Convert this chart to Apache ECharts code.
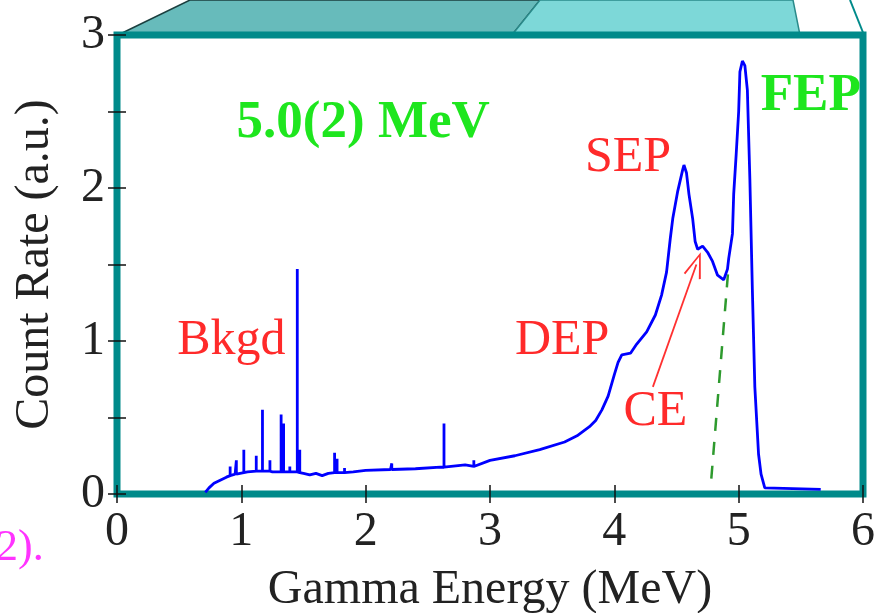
<!DOCTYPE html>
<html>
<head>
<meta charset="utf-8">
<script src="https://cdn.jsdelivr.net/npm/echarts@6/dist/echarts.min.js"></script>
<style>
  html, body { margin: 0; padding: 0; background: #fff; }
  #chart { width: 883px; height: 613px; }
</style>
</head>
<body>
<div id="chart"></div>
<script>
// continuum of the spectrum (MeV, a.u.)
const energy = [0.71, 0.74, 0.78, 0.83, 0.88, 0.95, 1.05, 1.15, 1.25, 1.40, 1.50, 1.55, 1.60, 1.65, 1.70, 1.90,
  2.00, 2.20, 2.40, 2.60, 2.80, 3.00, 3.20, 3.40, 3.60, 3.70, 3.80, 3.85, 3.90, 3.95, 4.00, 4.03, 4.06, 4.13,
  4.18, 4.26, 4.33, 4.38, 4.42, 4.45, 4.47, 4.51, 4.55, 4.56, 4.58, 4.60, 4.63, 4.65, 4.67, 4.71, 4.75, 4.79,
  4.83, 4.88, 4.91, 4.92, 4.95, 4.96, 4.98, 5.00, 5.01, 5.03, 5.05, 5.07, 5.09, 5.11, 5.13, 5.16, 5.18, 5.21, 5.66];
const countRate = [0.01, 0.04, 0.07, 0.09, 0.11, 0.13, 0.145, 0.15, 0.145, 0.145, 0.135, 0.125, 0.135, 0.12, 0.135, 0.145,
  0.155, 0.16, 0.165, 0.175, 0.19, 0.22, 0.25, 0.29, 0.34, 0.38, 0.44, 0.48, 0.55, 0.64, 0.78, 0.86, 0.91, 0.92,
  0.98, 1.06, 1.17, 1.30, 1.45, 1.67, 1.80, 1.98, 2.12, 2.15, 2.10, 1.96, 1.80, 1.65, 1.60, 1.62, 1.58, 1.52,
  1.43, 1.40, 1.47, 1.54, 1.70, 1.96, 2.22, 2.50, 2.76, 2.83, 2.80, 2.64, 2.06, 1.34, 0.70, 0.26, 0.13, 0.04, 0.03];

// background lines
const lineEnergy = [0.91, 0.96, 1.02, 1.12, 1.17, 1.23, 1.32, 1.34, 1.39, 1.45, 1.47, 1.75, 1.77, 1.83, 2.21, 2.63, 2.87];
const lineTop    = [0.18, 0.22, 0.29, 0.25, 0.55, 0.22, 0.52, 0.46, 0.18, 1.47, 0.29, 0.27, 0.23, 0.17, 0.20, 0.46, 0.22];
const lineBase   = [0.12, 0.13, 0.14, 0.15, 0.15, 0.15, 0.145, 0.145, 0.145, 0.145, 0.14, 0.14, 0.14, 0.14, 0.16, 0.175, 0.18];

// dashed FEP tail and CE arrow
const tailLine = [[4.78, 0.10], [4.92, 1.50]];
const ceArrow = [[4.31, 0.70], [4.66, 1.50]];

const annotations = [
  { text: '5.0(2) MeV', at: [1.98, 2.42], color: '#1ee61e', bold: true, size: 53 },
  { text: 'FEP', at: [5.58, 2.60], color: '#1ee61e', bold: true, size: 53 },
  { text: 'SEP', at: [4.11, 2.20], color: '#ff2a2a', bold: false, size: 50 },
  { text: 'Bkgd', at: [0.92, 1.00], color: '#ff2a2a', bold: false, size: 50 },
  { text: 'DEP', at: [3.58, 1.00], color: '#ff2a2a', bold: false, size: 50 },
  { text: 'CE', at: [4.33, 0.54], color: '#ff2a2a', bold: false, size: 50 }
];

const segs = [];
energy.forEach((e, i) => segs.push({ k: e, pts: [[e, countRate[i]]] }));
lineEnergy.forEach((e, i) => segs.push({ k: e, pts: [[e, lineBase[i]], [e, lineTop[i]], [e, lineBase[i]]] }));
segs.sort((a, b) => a.k - b.k);
const spectrum = [];
segs.forEach(s => s.pts.forEach(p => spectrum.push(p)));

const serif = 'Liberation Serif';
const teal = '#008a8a';

const chart = echarts.init(document.getElementById('chart'));

const decor = [
  { type: 'polygon', z: -10, shape: { points: [[118, 35], [190, 0], [540, 0], [512, 35]] },
    style: { fill: '#67bbbb', stroke: '#1b3f3f', lineWidth: 1.5 } },
  { type: 'polygon', z: -10, shape: { points: [[512, 35], [540, 0], [793, 0], [800, 35]] },
    style: { fill: '#7dd8d8', stroke: '#2a8a8a', lineWidth: 1.5 } },
  { type: 'line', z: -10, shape: { x1: 850, y1: 0, x2: 864, y2: 35 }, style: { stroke: teal, lineWidth: 2 } },
  { type: 'text', x: -4, y: 548, style: { text: '2).', fill: '#ff33ff', font: '44px "' + serif + '"',
    textAlign: 'left', align: 'left', textVerticalAlign: 'middle', verticalAlign: 'middle' } }
];

const option = {
  animation: false,
  backgroundColor: '#fff',
  grid: { left: 117, right: 20, top: 35, bottom: 119, outerBoundsMode: 'none', containLabel: false,
    show: true, borderColor: teal, borderWidth: 7, backgroundColor: 'transparent' },
  xAxis: [
    { type: 'value', min: 0, max: 6, interval: 1, position: 'bottom',
      axisLine: { show: false }, splitLine: { show: false },
      axisTick: { inside: true, length: 9, lineStyle: { color: '#111', width: 1.5 } },
      axisLabel: { fontFamily: serif, fontSize: 48, color: '#222', margin: 14 },
      name: 'Gamma Energy (MeV)', nameLocation: 'middle', nameGap: 72,
      nameTextStyle: { fontFamily: serif, fontSize: 48, color: '#222' } },
    { type: 'value', min: 0, max: 6, interval: 1, position: 'top',
      axisLine: { show: false }, splitLine: { show: false }, axisLabel: { show: false },
      axisTick: { inside: true, length: 9, lineStyle: { color: '#111', width: 1.5 } } }
  ],
  yAxis: [
    { type: 'value', min: 0, max: 3, interval: 0.5, position: 'left',
      axisLine: { show: false }, splitLine: { show: false },
      axisTick: { inside: true, length: 9, lineStyle: { color: '#111', width: 1.5 } },
      axisLabel: { fontFamily: serif, fontSize: 48, color: '#222', margin: 12,
        formatter: v => (Number.isInteger(v) ? String(v) : '') },
      name: 'Count Rate (a.u.)', nameLocation: 'middle', nameGap: 58,
      nameTextStyle: { fontFamily: serif, fontSize: 48, color: '#222' } },
    { type: 'value', min: 0, max: 3, interval: 0.5, position: 'right',
      axisLine: { show: false }, splitLine: { show: false }, axisLabel: { show: false },
      axisTick: { inside: true, length: 9, lineStyle: { color: '#111', width: 1.5 } } }
  ],
  series: [
    { name: 'tail', type: 'line', data: tailLine, showSymbol: false, silent: true,
      lineStyle: { color: '#2e9a2e', width: 2.5, type: [13, 11] } },
    { name: 'spectrum', type: 'line', data: spectrum, showSymbol: false, silent: true, z: 5,
      lineStyle: { color: '#0000ff', width: 2.8 } },
    { name: 'arrow', type: 'line', data: [], silent: true,
      markLine: { silent: true, animation: false,
        symbol: ['none', 'path://M0,0 L-7,18 L-5.6,18.6 L0,3.5 L5.6,18.6 L7,18 Z'], symbolSize: [18, 26],
        label: { show: false }, lineStyle: { color: '#ff3030', width: 1.8, type: 'solid' },
        data: [[{ coord: ceArrow[0] }, { coord: ceArrow[1] }]] } }
  ],
  graphic: decor
};
chart.setOption(option);

const texts = annotations.map(a => {
  const p = chart.convertToPixel({ xAxisIndex: 0, yAxisIndex: 0 }, a.at);
  return { type: 'text', x: p[0], y: p[1], z: 10,
    style: { text: a.text, fill: a.color,
      font: (a.bold ? 'bold ' : '') + a.size + 'px "' + serif + '"',
      textAlign: 'center', align: 'center', textVerticalAlign: 'middle', verticalAlign: 'middle' } };
});
chart.setOption({ graphic: decor.concat(texts) });
</script>
</body>
</html>
